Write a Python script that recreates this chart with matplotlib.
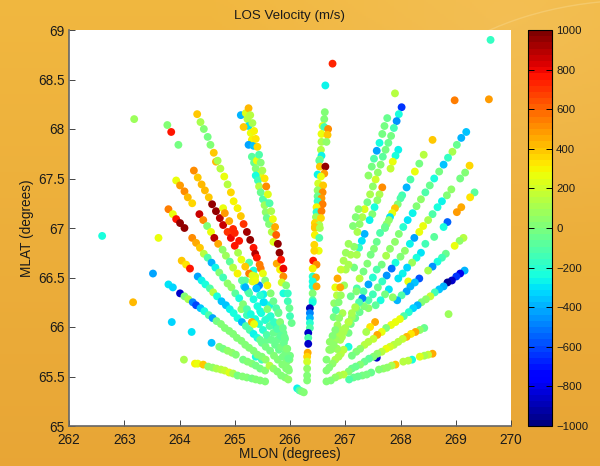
#!/usr/bin/env python3
# LOS velocity scatter on MLON/MLAT, one group of lists per radar beam
import numpy as np
import matplotlib
matplotlib.use("Agg")
import matplotlib.pyplot as plt
from matplotlib.patches import Arc

plt.rcParams['font.family'] = ['Liberation Sans', 'DejaVu Sans']

single_lon = [262.60,263.62,263.52,263.16,263.80,263.88,263.86,264.22,264.58,264.08,263.18,263.78,263.85,263.98,269.63,266.77,266.64,267.90,268.98,269.60,268.58,268.87]
single_lat = [66.92,66.90,66.54,66.25,66.43,66.40,66.05,65.95,65.84,65.67,68.10,68.04,67.97,67.84,68.90,68.66,68.44,68.36,68.29,68.30,67.89,66.13]
single_vel = [-230,260,-420,430,-300,-330,-330,-300,-350,110,90,20,750,-30,-170,720,-270,130,560,480,380,90]

a_lon = [264.28,264.33,264.43,264.52,264.60,264.67,264.75,264.82,264.90,264.97,265.05,265.14,265.22,265.31,265.38,265.46,265.55]
a_lat = [65.63,65.63,65.62,65.60,65.59,65.58,65.57,65.56,65.54,65.53,65.51,65.50,65.49,65.48,65.47,65.46,65.45]
a_vel = [300,260,400,60,60,100,150,170,230,100,-30,20,0,-20,30,20,0]

b_lon = [264.72,264.79,264.87,264.95,265.02,265.15,265.23,265.31,265.38,265.38,265.46,265.49,265.55]
b_lat = [65.80,65.78,65.76,65.74,65.72,65.67,65.65,65.63,65.61,65.70,65.58,65.67,65.56]
b_vel = [30,-30,50,50,30,-20,20,30,-30,-250,-10,-150,20]

c_lon = [264.01,264.09,264.16,264.24,264.30,264.38,264.45,264.53,264.60,264.67,264.75,264.82,264.90,264.97,265.04,265.12,265.19,265.26,265.34,265.41,265.49,265.56,265.63,265.70,265.77,265.84,265.91,265.97]
c_lat = [66.34,66.31,66.28,66.25,66.22,66.19,66.16,66.12,66.09,66.06,66.03,65.99,65.96,65.93,65.89,65.86,65.82,65.79,65.76,65.72,65.70,65.67,65.61,65.58,65.55,65.51,65.49,65.47]
c_vel = [-850,20,120,-500,-620,-350,-250,-100,-430,-30,0,0,10,20,0,10,0,10,20,10,0,60,130,40,30,30,30,40]

d_lon = [264.33,264.40,264.47,264.55,264.61,264.68,264.76,264.84,264.91,264.98,265.05,265.13,265.20,265.27,265.34,265.41,265.49,265.56,265.64,265.71,265.78,265.86,265.93,265.98]
d_lat = [66.51,66.47,66.43,66.39,66.35,66.31,66.26,66.22,66.18,66.14,66.09,66.05,66.01,65.97,65.93,65.89,65.84,65.80,65.76,65.71,65.67,65.62,65.58,65.56]
d_vel = [-420,-280,-230,-110,150,-230,-370,-350,-270,-230,-250,-380,-120,-100,-260,-230,-60,-10,-20,0,0,10,20,30]

e_lon = [264.04,264.12,264.19]
e_lat = [66.67,66.63,66.59]
e_vel = [400,330,750]

f_lon = [263.80,263.88,263.94,264.01,264.09,264.23,264.30,264.37,264.44,264.51,264.58,264.65,264.72,264.79,264.87,264.94,265.01,265.08,265.15,265.22,265.29,265.37,265.44,265.51,265.58,265.66,265.73,265.80,265.87,265.93,265.97]
f_lat = [67.19,67.14,67.09,67.05,67.00,66.90,66.85,66.80,66.74,66.70,66.65,66.60,66.55,66.50,66.44,66.40,66.34,66.29,66.23,66.18,66.13,66.08,66.03,65.97,65.92,65.87,65.82,65.77,65.70,65.64,65.58]
f_vel = [550,270,750,950,950,520,450,400,150,-120,-380,-260,30,-130,50,60,-80,-240,20,-110,-240,-230,-200,-200,-120,-60,-50,-40,-30,0,10]

g_lon = [263.94,264.01,264.09,264.15,264.23,264.36,264.43,264.50,264.57,264.63,264.70,264.78,264.84,264.91,264.97,265.05,265.13,265.19,265.26,265.34,265.41,265.48,265.55,265.63,265.70,265.77,265.84,265.92,265.99]
g_lat = [67.48,67.43,67.37,67.31,67.25,67.14,67.08,67.02,66.96,66.90,66.84,66.78,66.72,66.66,66.60,66.54,66.47,66.40,66.34,66.28,66.21,66.14,66.07,66.01,65.94,65.87,65.80,65.74,65.67]
g_vel = [260,470,520,430,350,850,530,10,260,900,460,50,70,-80,140,300,-80,-400,-110,-220,-250,-230,-200,-120,-60,-40,-20,-30,0]

h_lon = [264.26,264.33,264.40,264.46,264.53,264.59,264.66,264.73,264.79,264.87,264.93,265.00,265.06,265.12,265.19,265.26,265.32,265.39,265.46,265.52,265.59,265.65,265.71,265.77,265.83,265.89,265.95,266.00]
h_lat = [67.58,67.51,67.44,67.38,67.31,67.24,67.17,67.10,67.03,66.96,66.90,66.82,66.75,66.68,66.61,66.54,66.46,66.39,66.32,66.25,66.18,66.11,66.05,65.98,65.91,65.84,65.78,65.71]
h_vel = [500,380,430,430,400,950,950,900,850,700,800,750,120,270,400,550,230,-350,-200,-300,0,-200,-160,-120,-70,-60,-30,-10]

h2_lon = [264.66,264.79,264.82,264.90,264.97,265.00,265.08,265.32,265.37,265.31,265.35]
h2_lat = [67.67,67.20,67.15,67.07,66.99,66.95,66.87,66.52,66.47,66.05,66.03]
h2_vel = [420,280,480,450,720,720,750,220,250,450,280]

i_lon = [264.32,264.38,264.44,264.51,264.56,264.62,264.69,264.74,264.81,264.87,264.93,264.98,265.05,265.11,265.16,265.22,265.28,265.34,265.37,265.40,265.45,265.47,265.51,265.55,265.59,265.65,265.70,265.75,265.79,265.82,265.87,265.90,265.94,265.97]
i_lat = [68.15,68.07,68.00,67.92,67.84,67.76,67.68,67.60,67.52,67.44,67.36,67.27,67.20,67.12,67.04,66.96,66.88,66.80,66.74,66.70,66.63,66.59,66.54,66.47,66.42,66.34,66.26,66.19,66.14,66.05,65.99,65.90,65.78,65.68]
i_vel = [400,120,30,-30,0,400,120,150,260,150,370,300,290,400,700,920,950,750,900,750,550,550,280,30,300,0,-50,-100,-50,0,-50,-50,0,-50]

j2_lon = [265.11,265.20,265.23,265.25,265.16,265.29,265.31,265.25,265.34,265.31,265.35,265.40,265.38,265.46,265.38,265.42,265.44,265.47,265.51,265.59,265.54,265.56,265.58,265.62,265.67,265.70,265.76,265.82,265.88]
j2_lat = [68.14,68.16,68.10,68.03,68.02,67.96,67.89,67.84,67.83,67.72,67.66,67.68,67.60,67.54,67.53,67.48,67.42,67.36,67.29,67.25,67.23,67.16,67.10,67.04,66.96,66.86,66.64,66.58,66.34]
j2_vel = [-400,230,130,-300,400,280,300,-420,-350,-70,-50,250,0,220,-250,-150,150,-50,-100,-130,70,60,-50,20,150,220,450,300,-250]

j_lon = [265.25,265.28,265.32,265.35,265.38,265.41,265.44,265.47,265.50,265.54,265.57,265.60,265.63,265.66,265.69,265.73,265.75,265.78,265.81,265.84,265.88,265.88,265.85,265.93,265.96,265.96,265.99,266.00,266.03]
j_lat = [68.21,68.14,68.06,67.98,67.90,67.82,67.74,67.66,67.58,67.50,67.42,67.34,67.25,67.17,67.09,67.01,66.93,66.84,66.75,66.68,66.59,66.51,66.45,66.42,66.34,66.26,66.19,66.11,66.04]
j_vel = [420,150,120,300,320,350,-100,30,100,320,500,240,-100,120,280,450,600,950,950,750,800,500,200,30,-180,-150,-50,-150,-50]

mid_lon = [265.19,265.17,265.24,265.26,265.34,265.37,265.40,265.44,265.52,265.63,265.53,265.12,265.22,265.46,265.61,265.79,265.82,265.70,265.76,265.88,265.91,265.59,265.46]
mid_lat = [66.47,66.41,66.36,66.65,66.57,66.51,66.39,66.42,66.33,66.22,66.25,66.18,66.12,66.16,66.09,66.15,66.04,66.02,65.95,65.94,65.88,65.87,65.87]
mid_vel = [-80,-280,-100,-100,-250,220,-300,-500,-280,-220,-250,50,-130,-250,-100,-60,-230,-200,-20,-60,-50,-60,-50]

k_lon = [266.63,266.62,266.59,266.62,266.69,266.57,266.68,266.57,266.66,266.56,266.57,266.54,266.53,266.54,266.64,266.62,266.50,266.56,266.51,266.60,266.50,266.59,266.50,266.57,266.50,266.59,266.48,266.48,266.57,266.47,266.56,266.45,266.53,266.45,266.45,266.54,266.45,266.53,266.44,266.52,266.44,266.42,266.48,266.41,266.41,266.47,266.41,266.41,266.48,266.41,266.41,266.41,266.36,266.36,266.36,266.36,266.36,266.33,266.33,266.33,266.32,266.31,266.31,266.31,266.31,266.31]
k_lat = [68.17,68.10,68.03,68.02,68.00,67.95,67.94,67.87,67.87,67.79,67.73,67.69,67.68,67.62,67.62,67.55,67.54,67.52,67.45,67.43,67.38,67.36,67.32,67.30,67.27,67.24,67.21,67.16,67.17,67.11,67.10,67.05,67.03,67.01,67.00,67.00,66.93,66.90,66.83,66.77,66.77,66.67,66.63,66.59,66.51,66.50,66.46,66.41,66.41,66.34,66.27,66.25,66.19,66.14,66.09,66.04,65.99,65.94,65.89,65.83,65.74,65.70,65.65,65.58,65.51,65.46]
k_vel = [30,30,230,-150,520,250,380,100,50,130,-280,30,-80,400,950,480,-280,250,200,380,50,520,-50,480,-180,550,300,-200,550,80,350,350,100,400,380,100,300,-100,350,280,350,750,500,300,-200,450,-220,-230,450,30,-100,-220,-900,-480,-380,-200,-100,-850,-100,-850,450,350,200,50,0,0]

tail_lon = [266.13,266.17,266.21,266.25]
tail_lat = [65.38,65.36,65.35,65.34]
tail_vel = [-280,-100,-30,20]

l_lon = [267.76,267.71,267.67,267.62,267.57,267.52,267.48,267.42,267.24,267.19,267.14,267.06,267.01,266.97,266.92,266.86,266.82,266.91,266.85,266.92,266.80,266.88,266.83,266.79,266.89,266.86,266.82,266.77,266.72,266.71,266.66]
l_lat = [68.11,68.03,67.95,67.86,67.78,67.70,67.62,67.53,67.19,67.11,67.02,66.84,66.75,66.67,66.58,66.49,66.40,66.40,66.32,66.32,66.24,66.25,66.17,66.10,66.09,66.02,65.97,65.91,65.85,65.77,65.67]
l_vel = [-50,-30,-30,-230,-420,-100,-20,60,60,30,30,70,80,120,170,450,280,450,150,70,60,30,-100,-30,60,70,30,30,50,50,30]

m_lon = [268.02,267.97,267.93,267.88,267.83,267.78,267.73,267.68,267.64,267.59,267.55,267.50,267.45,267.40,267.35,267.31,267.26,267.22,267.16,267.10,267.06,267.01,266.98,266.95,267.00,266.91,266.88,266.83,266.79,266.74]
m_lat = [68.22,68.15,68.08,68.01,67.93,67.86,67.79,67.72,67.64,67.56,67.49,67.42,67.34,67.26,67.19,67.11,67.04,66.96,66.81,66.73,66.63,66.58,66.42,66.14,65.99,65.97,65.92,65.87,65.82,65.77]
m_vel = [-650,-220,-450,-130,-30,-50,-20,-70,30,60,200,60,100,-20,240,100,40,100,60,120,100,120,70,100,100,100,100,70,60,50]

m2_lon = [267.96,267.91,267.86,267.82,267.67,267.62,267.58,267.53,267.49,267.44,267.35,267.30,267.25,267.21,267.16,267.26,267.20,267.10]
m2_lat = [67.79,67.73,67.67,67.60,67.41,67.34,67.28,67.21,67.14,67.08,66.94,66.87,66.80,66.73,66.60,66.49,66.36,66.31]
m2_vel = [-260,-230,270,170,500,100,60,-230,30,-280,-400,-300,-180,100,-30,150,0,-50]

n_lon = [268.42,268.34,268.26,268.18,268.11,268.03,268.00,267.95,267.90,267.85,267.81,267.79,267.75,267.72,267.72,267.63,267.57,267.52,267.46,267.40,267.33,267.21,267.18,267.12,267.06,266.97,266.91,266.85]
n_lat = [67.74,67.65,67.57,67.49,67.41,67.33,67.30,67.24,67.20,67.15,67.11,67.08,67.04,67.01,67.00,66.95,66.86,66.79,66.73,66.64,66.56,66.39,66.20,66.14,66.05,65.95,65.87,65.78]
n_vel = [130,-10,260,-100,-400,-130,-110,20,380,250,-300,50,40,-50,-50,-100,-50,0,-30,20,-30,-100,100,120,150,120,120,80]

o_lon = [269.19,269.10,269.02,268.94,268.86,268.78,268.70,268.61,268.53,268.45,268.37,268.29,268.22,268.13,268.05,267.97,267.90,267.81,267.74,267.66,267.57,267.50,267.42,267.33,267.31,267.25,267.20,267.12,267.06,266.94,266.85]
o_lat = [67.97,67.91,67.84,67.77,67.71,67.64,67.57,67.50,67.43,67.36,67.29,67.22,67.15,67.08,67.01,66.94,66.86,66.79,66.72,66.63,66.58,66.50,66.43,66.36,66.29,66.25,66.19,66.10,66.05,65.90,65.78]
o_vel = [-370,-400,-60,120,-160,-350,-30,-230,-50,-110,50,20,-260,-290,-200,30,40,60,120,-30,-100,-200,-420,-100,-500,-100,30,80,120,100,70]

p_lon = [269.25,269.17,269.08,268.92,268.84,268.75,268.67,268.58,268.50,268.41,268.34,268.25,268.17,268.08,268.00,267.91,267.84,267.75,267.67,267.59,267.50,267.42,267.34,267.26,267.18,267.10,267.06,266.97,266.92,266.88,266.82,266.77,266.71,266.66]
p_lat = [67.63,67.56,67.50,67.39,67.33,67.27,67.21,67.14,67.08,67.02,66.96,66.90,66.84,66.77,66.71,66.65,66.59,66.52,66.46,66.40,66.33,66.27,66.21,66.15,66.09,66.03,65.94,65.77,65.73,65.70,65.67,65.63,65.59,65.56]
p_vel = [370,20,-30,50,10,-280,-220,-100,100,270,250,-430,-270,50,30,-230,-520,-450,-180,-50,-140,-100,0,-50,-40,-30,-30,130,150,100,100,50,30,30]

q_lon = [269.34,269.26,269.10,269.02,268.85,268.78,268.61,268.45,268.37,268.29,268.21,268.12,268.04,267.96,268.14,268.34,268.26,268.18,268.11,268.02,267.94,267.86,267.79,267.72,267.64,267.55,267.42]
q_lat = [67.36,67.31,67.21,67.16,67.06,67.01,66.91,66.84,66.75,66.70,66.65,66.60,66.54,66.49,66.46,66.49,66.45,66.41,66.36,66.32,66.27,66.30,66.38,66.33,66.27,66.22,66.19]
q_vel = [-90,320,450,480,-540,-220,-80,-130,-300,-250,70,-340,-280,-310,260,-580,-360,-400,-420,-120,-400,50,-300,-20,-230,-90,50]

r_lon = [269.14,269.07,268.98,268.82,268.75,268.67,268.58,268.50]
r_lat = [66.90,66.87,66.82,66.74,66.70,66.66,66.61,66.57]
r_vel = [150,60,270,-50,-130,-230,-460,100]

s_lon = [269.16,269.08,269.01,268.93,268.85,268.78,268.70,268.62,268.54,268.46,268.38,268.31,268.23,268.15,268.06,267.99,267.91,267.83,267.74,267.66,267.58,267.54,267.45,267.38,267.51,267.42,267.35,267.27,267.20,267.12,267.06]
s_lat = [66.57,66.54,66.51,66.47,66.45,66.41,66.38,66.35,66.31,66.28,66.25,66.22,66.19,66.15,66.11,66.08,66.05,66.02,65.99,65.95,65.92,66.05,66.00,65.95,65.88,65.85,65.82,65.78,65.75,65.71,65.80]
s_vel = [-380,-800,-650,-850,-950,-400,-350,-150,170,60,10,-400,-330,-190,-100,280,280,280,30,270,450,450,330,120,180,150,150,40,30,-30,-250]

t_lon = [267.57,268.43,268.35,268.27,268.19,268.11,268.04,267.96,267.88,267.81,267.74,267.66,267.58,267.51,267.43,267.35,267.27,267.19,267.12,267.06]
t_lat = [65.69,65.99,65.97,65.95,65.93,65.90,65.88,65.85,65.82,65.80,65.78,65.75,65.73,65.70,65.68,65.65,65.62,65.60,65.58,65.55]
t_vel = [-850,-40,50,450,330,420,180,140,130,200,250,130,60,20,-70,-50,20,-60,-40,10]

u_lon = [268.58,268.50,268.43,268.35,268.21,268.14,268.05,267.91,267.84,267.76,267.69,267.61,267.47,267.39,267.31,267.23,267.15,267.07,266.97,266.89,266.82,266.74,266.66]
u_lat = [65.73,65.72,65.71,65.70,65.67,65.66,65.65,65.62,65.61,65.59,65.58,65.57,65.54,65.52,65.51,65.50,65.49,65.47,65.52,65.51,65.49,65.46,65.45]
u_vel = [450,180,100,230,-250,150,130,400,120,60,50,30,-60,-30,-10,-40,-60,-100,130,100,40,30,30]

beams = [(single_lon, single_lat, single_vel), (a_lon, a_lat, a_vel), (b_lon, b_lat, b_vel),
         (c_lon, c_lat, c_vel), (d_lon, d_lat, d_vel), (e_lon, e_lat, e_vel),
         (mid_lon, mid_lat, mid_vel), (f_lon, f_lat, f_vel), (g_lon, g_lat, g_vel),
         (h_lon, h_lat, h_vel), (h2_lon, h2_lat, h2_vel), (j2_lon, j2_lat, j2_vel),
         (i_lon, i_lat, i_vel), (j_lon, j_lat, j_vel), (tail_lon, tail_lat, tail_vel),
         (t_lon, t_lat, t_vel), (u_lon, u_lat, u_vel), (s_lon, s_lat, s_vel),
         (r_lon, r_lat, r_vel), (q_lon, q_lat, q_vel), (p_lon, p_lat, p_vel),
         (o_lon, o_lat, o_vel), (n_lon, n_lat, n_vel), (m2_lon, m2_lat, m2_vel),
         (m_lon, m_lat, m_vel), (l_lon, l_lat, l_vel), (k_lon, k_lat, k_vel)]

lon = np.concatenate([b[0] for b in beams])
lat = np.concatenate([b[1] for b in beams])
vel = np.concatenate([b[2] for b in beams])

xticks = [262, 263, 264, 265, 266, 267, 268, 269, 270]
yticks = [65, 65.5, 66, 66.5, 67, 67.5, 68, 68.5, 69]
yticklabels = ["65", "65.5", "66", "66.5", "67", "67.5", "68", "68.5", "69"]
cticks = [-1000, -800, -600, -400, -200, 0, 200, 400, 600, 800, 1000]

fig = plt.figure(figsize=(6.0, 4.66), dpi=100)

# orange slide background
bg = fig.add_axes([0, 0, 1, 1], zorder=0)
yy, xx = np.mgrid[0:1:233j, 0:1:300j]
top = np.array([0.945, 0.72, 0.25])
bottom = np.array([0.91, 0.65, 0.21])
img = top[None, None, :] * (1 - yy[..., None]) + bottom[None, None, :] * yy[..., None]
glow = np.clip(1 - np.hypot(xx - 0.85, yy - 0.05) / 0.5, 0, 1)[..., None]
img = img + glow * np.array([0.01, 0.03, 0.08])
bg.imshow(np.clip(img, 0, 1), aspect="auto", extent=(0, 600, 466, 0))
bg.add_patch(Arc((640, 150), 500, 300, theta1=190, theta2=300, color="#f6cf78", lw=1.0, alpha=0.7))
bg.set_xlim(0, 600); bg.set_ylim(466, 0)
bg.axis("off")

ax = fig.add_axes([69 / 600, 40 / 466, 442 / 600, 396 / 466], zorder=1)
sc = ax.scatter(lon, lat, c=vel, s=32, cmap=plt.get_cmap("jet", 64), vmin=-1000, vmax=1000, linewidths=0)
ax.set_xlim(262, 270); ax.set_ylim(65, 69)
ax.set_xticks(xticks); ax.set_yticks(yticks); ax.set_yticklabels(yticklabels)
ax.tick_params(direction="in", length=4, width=0.7, labelsize=9.8, color="#444444", labelcolor="#1a1a1a", pad=3)
ax.tick_params(axis="x", pad=5)
ax.spines["top"].set_visible(False); ax.spines["right"].set_visible(False)
for s in ("left", "bottom"):
    ax.spines[s].set_color("#666666"); ax.spines[s].set_linewidth(1.2)
ax.set_xlabel("MLON (degrees)", fontsize=9.8, color="#1a1a1a", labelpad=0)
ax.set_ylabel("MLAT (degrees)", fontsize=9.8, color="#1a1a1a", labelpad=3)
ax.set_title("LOS Velocity (m/s)", fontsize=9.6, color="#1a1a1a", pad=8)

cax = fig.add_axes([528 / 600, 40 / 466, 24 / 600, 396 / 466], zorder=1)
cb = fig.colorbar(sc, cax=cax, ticks=cticks)
cax.tick_params(direction="in", length=4, width=0.7, labelsize=8.2, color="black", labelcolor="#1a1a1a", pad=3, left=True)
cb.outline.set_linewidth(0.8)

fig.savefig("out.png", dpi=100)
